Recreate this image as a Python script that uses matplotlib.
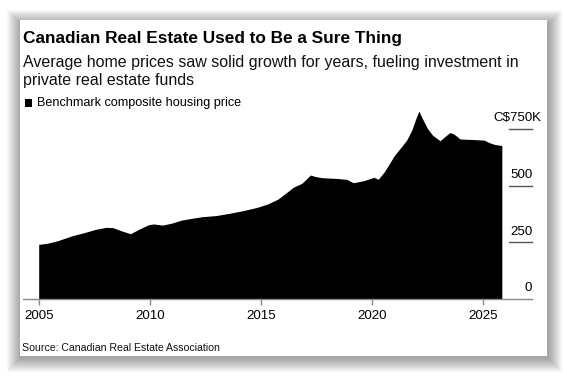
import matplotlib.pyplot as plt
from matplotlib.patches import Rectangle

plt.rcParams['font.family'] = ['Liberation Sans', 'DejaVu Sans']

W, H = 567, 377

# benchmark composite price, C$ thousands
years = [2005.0, 2005.39, 2005.85, 2006.47, 2007.09, 2007.55, 2008.02, 2008.33,
         2008.71, 2009.13, 2009.49, 2009.95, 2010.18, 2010.57, 2010.96, 2011.42,
         2011.89, 2012.35, 2012.97, 2013.58, 2014.2, 2014.82, 2015.29, 2015.75,
         2016.14, 2016.45, 2016.83, 2017.07, 2017.22, 2017.45, 2017.76, 2018.38,
         2018.85, 2019.15, 2019.62, 2019.93, 2020.08, 2020.27, 2020.55, 2021.01,
         2021.32, 2021.55, 2021.78, 2021.94, 2022.1, 2022.25, 2022.48, 2022.71,
         2023.05, 2023.26, 2023.49, 2023.67, 2023.95, 2024.42, 2025.03, 2025.26,
         2025.5, 2025.83]
prices = [241, 246, 257, 278, 294, 307, 316, 315,
          301, 288, 307, 328, 331, 326, 334, 348,
          356, 363, 368, 378, 390, 404, 419, 440,
          469, 493, 510, 532, 547, 540, 535, 532,
          528, 513, 522, 532, 537, 528, 562, 635,
          672, 701, 745, 790, 829, 797, 753, 723,
          698, 716, 734, 728, 706, 704, 701, 690,
          682, 677]

year_ticks = [2005, 2010, 2015, 2020, 2025]
price_ticks = [0, 250, 500, 750]
price_labels = ['0', '250', '500', 'C$750']

title = "Canadian Real Estate Used to Be a Sure Thing"
sub1 = "Average home prices saw solid growth for years, fueling investment in"
sub2 = "private real estate funds"
legend_label = "Benchmark composite housing price"
source = "Source: Canadian Real Estate Association"


def fx(x):
    return x / W


def fy(y):
    return 1 - y / H


fig = plt.figure(figsize=(W / 100, H / 100), dpi=100)
fig.patch.set_facecolor('white')

# soft shadow behind the card (a bit heavier towards bottom right)
for i in range(14, 0, -1):
    fig.patches.append(Rectangle((fx(20 - i + 1), fy(358 + i)), (527 + 2 * i) / W, (334 + 2 * i) / H,
                                 transform=fig.transFigure, facecolor='black', alpha=0.028,
                                 edgecolor='none', zorder=0))
fig.patches.append(Rectangle((fx(20), fy(356)), 527 / W, 336 / H, transform=fig.transFigure,
                             facecolor='white', edgecolor='none', zorder=1))

px_per_k = 56.67 / 250
ax = fig.add_axes([fx(22.7), fy(299), (532.3 - 22.7) / W, 850 * px_per_k / H])
ax.set_facecolor('none')
ax.set_zorder(2)
ax.fill_between(years, prices, color='black', lw=0)
ax.set_xlim(2004.28, 2027.2)
ax.set_ylim(0, 850)

for s in ['top', 'left', 'right']:
    ax.spines[s].set_visible(False)
ax.spines['bottom'].set_color('#888888')
ax.spines['bottom'].set_linewidth(1)

ax.set_xticks(year_ticks)
ax.set_xticklabels([str(y) for y in year_ticks])
ax.tick_params(axis='x', length=4.3, width=1, color='#888888', labelsize=9.6, pad=3.5)
ax.set_yticks([])

ytr = ax.get_yaxis_transform()
for v, lab in zip(price_ticks, price_labels):
    if v > 0:
        ax.plot([0.955, 1.0], [v, v], transform=ytr, color='#555555', lw=1, clip_on=False)
    ax.annotate(lab, xy=(1.0, v), xycoords=ytr, xytext=(0, 5.5), textcoords='offset points',
                ha='right', va='baseline', fontsize=9.6)
ax.annotate('K', xy=(1.0, 750), xycoords=ytr, xytext=(0, 5.5), textcoords='offset points',
            ha='left', va='baseline', fontsize=9.6)

fig.text(fx(22.7), fy(43.3), title, fontsize=12.4, fontweight='bold', va='baseline', zorder=3)
fig.text(fx(22.7), fy(66.7), sub1, fontsize=11.5, color='#111111', va='baseline', zorder=3)
fig.text(fx(22.7), fy(85), sub2, fontsize=11.5, color='#111111', va='baseline', zorder=3)

fig.patches.append(Rectangle((fx(25), fy(106.7)), 7.3 / W, 7.7 / H, transform=fig.transFigure,
                             facecolor='black', edgecolor='none', zorder=3))
fig.text(fx(36.7), fy(106), legend_label, fontsize=9.05, va='baseline', zorder=3)
fig.text(fx(21.7), fy(350.7), source, fontsize=7.6, color='#111111', va='baseline', zorder=3)

fig.savefig('out.png', dpi=100)
